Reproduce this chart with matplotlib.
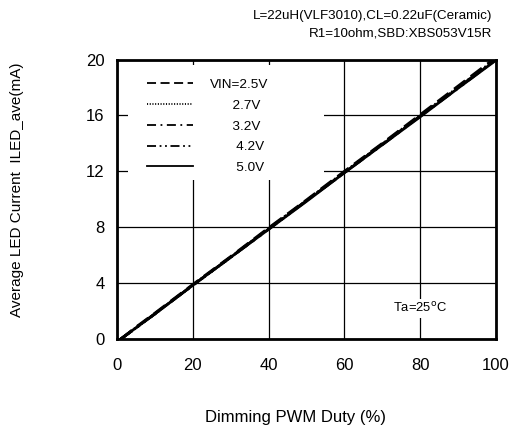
import matplotlib
matplotlib.use("Agg")
import matplotlib.pyplot as plt
from matplotlib.patches import Rectangle

plt.rcParams['font.family'] = ['Liberation Sans', 'DejaVu Sans']

duty = [1, 2, 5, 10, 20, 30, 40, 50, 60, 70, 80, 90, 100]
i_25 = [0.0, 0.2, 0.85, 1.85, 3.9, 5.9, 7.95, 9.95, 12.0, 14.0, 16.05, 18.1, 20.15]
i_27 = [0.0, 0.2, 0.8, 1.8, 3.85, 5.85, 7.9, 9.9, 11.95, 13.95, 16.0, 18.0, 20.05]
i_32 = [0.0, 0.2, 0.8, 1.8, 3.85, 5.85, 7.9, 9.9, 11.9, 13.95, 15.95, 18.0, 20.0]
i_42 = [0.0, 0.2, 0.8, 1.8, 3.85, 5.85, 7.85, 9.9, 11.9, 13.9, 15.95, 17.95, 20.0]
i_50 = [0.0, 0.2, 0.8, 1.8, 3.85, 5.85, 7.85, 9.85, 11.9, 13.9, 15.9, 17.95, 19.95]

labels = ["VIN=2.5V", "      2.7V", "      3.2V", "       4.2V", "       5.0V"]
styles = [(0, (5, 2.5)), (0, (0.6, 0.9)), (0, (5, 2.5, 1, 2.5)),
          (0, (5, 2, 1, 2, 1, 2)), '-']
series = [i_25, i_27, i_32, i_42, i_50]

xticks = [0, 20, 40, 60, 80, 100]
yticks = [0, 4, 8, 12, 16, 20]

fig = plt.figure(figsize=(5.14, 4.29), dpi=100)
ax = fig.add_axes([0.2276, 0.2098, 0.7374, 0.6515])

ax.set_xlim(0, 100)
ax.set_ylim(0, 20)
ax.set_xticks(xticks)
ax.set_yticks(yticks)
ax.tick_params(axis='both', length=0, labelsize=12)
ax.tick_params(axis='x', pad=14)
ax.tick_params(axis='y', pad=9)
ax.grid(True, color='black', linewidth=0.9, zorder=1)
ax.set_axisbelow(True)
for s in ax.spines.values():
    s.set_linewidth(2.0)
    s.set_zorder(10)

# white area behind the legend
ax.add_patch(Rectangle((0.029, 0.569), 0.517, 0.411, transform=ax.transAxes,
                       facecolor='white', edgecolor='none', zorder=2))

handles = []
for y, st, lab in zip(series, styles, labels):
    h, = ax.plot(duty, y, color='black', linestyle=st, linewidth=2.0, zorder=5, label=lab)
    handles.append(h)

leg = ax.legend(handles=handles, loc='upper left', bbox_to_anchor=(0.079, 0.932),
                frameon=False, fontsize=9.7, handlelength=3.4, handletextpad=1.3,
                labelspacing=0.62, borderpad=0, borderaxespad=0)
for lh in leg.get_lines():
    lh.set_linewidth(1.3)

ax.text(80, 2.2, "Ta=25$^{\\mathrm{o}}$C", ha='center', va='center', fontsize=9.4,
        bbox=dict(facecolor='white', edgecolor='none', pad=2), zorder=6)

fig.text(0.957, 0.963, "L=22uH(VLF3010),CL=0.22uF(Ceramic)", ha='right', va='center', fontsize=9.6)
fig.text(0.957, 0.923, "R1=10ohm,SBD:XBS053V15R", ha='right', va='center', fontsize=9.6)

fig.text(0.574, 0.026, "Dimming PWM Duty (%)", ha='center', va='center', fontsize=12)
fig.text(0.033, 0.557, "Average LED Current  ILED_ave(mA)", ha='center', va='center',
         rotation=90, fontsize=11)

fig.savefig("out.png", dpi=100)
